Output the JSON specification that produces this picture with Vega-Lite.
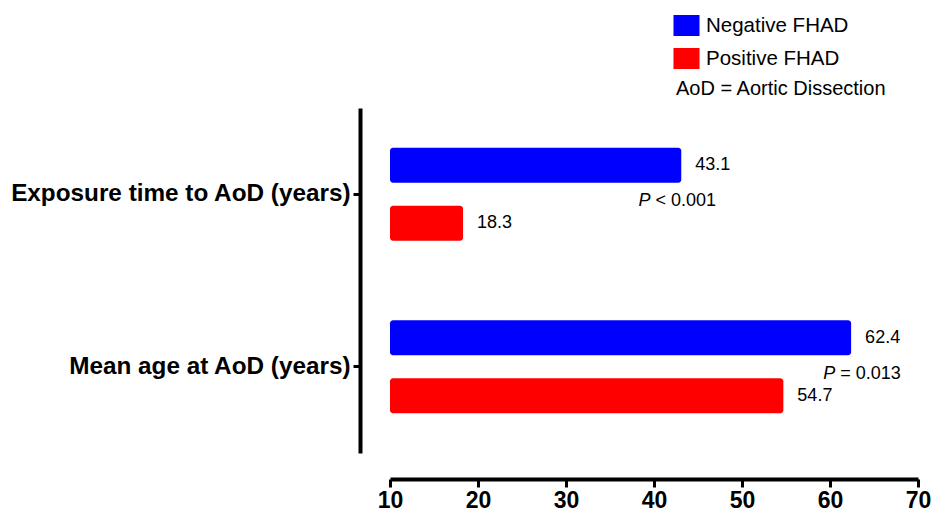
{
  "$schema": "https://vega.github.io/schema/vega-lite/v6.json",
  "autosize": "none",
  "padding": {"left": 390, "top": 108, "right": 14, "bottom": 61},
  "width": 528,
  "height": 345,
  "background": "white",
  "config": {
    "view": {"stroke": null},
    "font": "Liberation Sans",
    "axis": {"domainColor": "black", "tickColor": "black", "grid": false, "title": null, "labelColor": "black", "labelFont": "Liberation Sans", "labelFontWeight": "bold"}
  },
  "datasets": {
    "bars": [
      {"measure": "Exposure time to AoD (years)", "group": "Negative FHAD", "value": 43.1, "label": "43.1"},
      {"measure": "Exposure time to AoD (years)", "group": "Positive FHAD", "value": 18.3, "label": "18.3"},
      {"measure": "Mean age at AoD (years)", "group": "Negative FHAD", "value": 62.4, "label": "62.4"},
      {"measure": "Mean age at AoD (years)", "group": "Positive FHAD", "value": 54.7, "label": "54.7"}
    ],
    "pvals": [
      {"measure": "Exposure time to AoD (years)", "p": "P", "rest": "< 0.001", "px": 39.6},
      {"measure": "Mean age at AoD (years)", "p": "P", "rest": "= 0.013", "px": 60.6}
    ]
  },
  "encoding": {
    "y": {
      "field": "measure", "type": "nominal",
      "sort": ["Exposure time to AoD (years)", "Mean age at AoD (years)"],
      "scale": {"paddingInner": 0, "paddingOuter": 0},
      "axis": {"offset": 30, "domainWidth": 4, "tickSize": 7, "tickWidth": 3, "labelFontSize": 24.3, "labelPadding": 3, "labelLimit": 500}
    }
  },
  "layer": [
    {
      "data": {"name": "bars"},
      "mark": {"type": "bar", "cornerRadiusEnd": 3},
      "encoding": {
        "yOffset": {"field": "group", "type": "nominal", "sort": ["Negative FHAD", "Positive FHAD"], "scale": {"paddingInner": 0.397, "paddingOuter": 0.686}},
        "x": {"field": "value", "type": "quantitative",
          "scale": {"domain": [10, 70], "zero": false, "nice": false},
          "axis": {"values": [10, 20, 30, 40, 50, 60, 70], "offset": 26, "domainWidth": 4, "tickSize": 8, "tickWidth": 3, "labelFontSize": 23, "labelPadding": 2, "labelFlush": false}},
        "x2": {"datum": 10},
        "color": {"field": "group", "type": "nominal",
          "scale": {"domain": ["Negative FHAD", "Positive FHAD"], "range": ["#0000FF", "#FF0000"]},
          "legend": {
            "orient": "none", "legendX": 286, "legendY": -93,
            "title": "AoD = Aortic Dissection", "titleOrient": "bottom", "titleAnchor": "start", "titleLimit": 500,
            "titleFont": "Liberation Sans", "titleFontSize": 20, "titleFontWeight": "normal", "titleColor": "black", "titlePadding": 10,
            "symbolType": "M-1.24,-1H1.24V1H-1.24Z", "symbolSize": 441, "symbolStrokeWidth": 0, "symbolOpacity": 1,
            "labelFont": "Liberation Sans", "labelFontSize": 20.5, "labelColor": "black", "labelOffset": 9, "rowPadding": 12, "labelLimit": 400
          }}
      }
    },
    {
      "data": {"name": "bars"},
      "mark": {"type": "text", "align": "left", "baseline": "middle", "dx": 14, "fontSize": 18, "font": "Liberation Sans", "color": "black"},
      "encoding": {
        "yOffset": {"field": "group", "type": "nominal", "sort": ["Negative FHAD", "Positive FHAD"], "scale": {"paddingInner": 0.397, "paddingOuter": 0.686}},
        "x": {"field": "value", "type": "quantitative"},
        "text": {"field": "label"}
      }
    },
    {
      "data": {"name": "pvals"},
      "mark": {"type": "text", "align": "right", "baseline": "middle", "dy": 7, "fontSize": 18, "fontStyle": "italic", "font": "Liberation Sans", "color": "black"},
      "encoding": {
        "x": {"field": "px", "type": "quantitative"},
        "text": {"field": "p"}
      }
    },
    {
      "data": {"name": "pvals"},
      "mark": {"type": "text", "align": "left", "baseline": "middle", "dy": 7, "dx": 5, "fontSize": 18, "font": "Liberation Sans", "color": "black"},
      "encoding": {
        "x": {"field": "px", "type": "quantitative"},
        "text": {"field": "rest"}
      }
    }
  ]
}
